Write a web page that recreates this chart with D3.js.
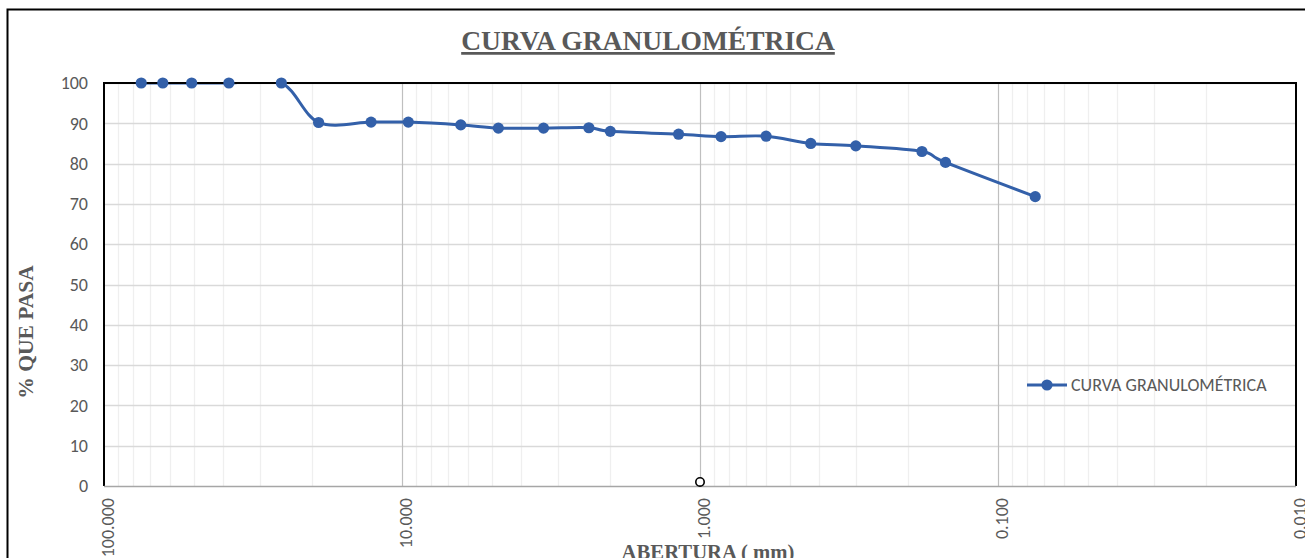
<!DOCTYPE html>
<html>
<head>
<meta charset="utf-8">
<script src="https://cdn.jsdelivr.net/npm/d3@7"></script>
<style>
  body { margin: 0; background: #fff; }
  svg { display: block; }
</style>
</head>
<body>
<div id="wrapper"></div>
<script>
// abertura (mm) y % que pasa
const aberturas = [75, 63.5, 50.8, 38.1, 25.4, 19.05, 12.7, 9.525, 6.35, 4.75, 3.35, 2.36, 2.0, 1.18, 0.85, 0.6, 0.425, 0.3, 0.18, 0.15, 0.075];
const pasa = [100, 100, 100, 100, 100, 90.2, 90.3, 90.3, 89.6, 88.8, 88.8, 88.9, 88.0, 87.3, 86.7, 86.8, 85.0, 84.4, 83.0, 80.3, 71.8];
// punto suelto (marcador hueco)
const extraX = [1.0];
const extraY = [1];
const xTicks = [100, 10, 1, 0.1, 0.01];
const yTicks = [0, 10, 20, 30, 40, 50, 60, 70, 80, 90, 100];

function drawChart() {
  const data = aberturas.map((d, i) => ({ x: d, y: pasa[i] }));
  const extra = extraX.map((d, i) => ({ x: d, y: extraY[i] }));

  let dimensions = {
    width: 1305,
    height: 558,
    margin: { top: 83, right: 9, bottom: 72, left: 104 },
  };
  dimensions.boundedWidth = dimensions.width - dimensions.margin.left - dimensions.margin.right;
  dimensions.boundedHeight = dimensions.height - dimensions.margin.top - dimensions.margin.bottom;

  const wrapper = d3.select("#wrapper")
    .append("svg")
    .attr("width", dimensions.width)
    .attr("height", dimensions.height);

  // outer chart border
  wrapper.append("path")
    .attr("d", `M7.5,${dimensions.height} V9.5 H${dimensions.width}`)
    .attr("fill", "none")
    .attr("stroke", "#000")
    .attr("stroke-width", 2);

  const bounds = wrapper.append("g")
    .attr("transform", `translate(${dimensions.margin.left},${dimensions.margin.top})`);

  bounds.append("clipPath")
    .attr("id", "plot-clip")
    .append("rect")
      .attr("x", 0).attr("y", 0)
      .attr("width", dimensions.boundedWidth)
      .attr("height", dimensions.boundedHeight);

  const xScale = d3.scaleLog()
    .domain([100, 0.01])
    .range([0, dimensions.boundedWidth]);

  const yScale = d3.scaleLinear()
    .domain([0, 100])
    .range([dimensions.boundedHeight, 0]);

  // minor vertical gridlines
  const minor = [];
  for (let e = -2; e < 2; e++) {
    for (let k = 2; k <= 9; k++) minor.push(k * Math.pow(10, e));
  }
  bounds.append("g").selectAll("line")
    .data(minor)
    .enter().append("line")
      .attr("x1", d => Math.round(xScale(d)) + 0.5)
      .attr("x2", d => Math.round(xScale(d)) + 0.5)
      .attr("y1", 0)
      .attr("y2", dimensions.boundedHeight)
      .attr("stroke", "#efefef")
      .attr("stroke-width", 1.3);

  // horizontal gridlines
  bounds.append("g").selectAll("line")
    .data(yTicks.slice(1))
    .enter().append("line")
      .attr("x1", 0)
      .attr("x2", dimensions.boundedWidth)
      .attr("y1", d => Math.round(yScale(d)) + 0.5)
      .attr("y2", d => Math.round(yScale(d)) + 0.5)
      .attr("stroke", "#d9d9d9")
      .attr("stroke-width", 1.3);

  // major vertical gridlines
  bounds.append("g").selectAll("line")
    .data(xTicks.slice(1, -1))
    .enter().append("line")
      .attr("x1", d => Math.round(xScale(d)) + 0.5)
      .attr("x2", d => Math.round(xScale(d)) + 0.5)
      .attr("y1", 0)
      .attr("y2", dimensions.boundedHeight)
      .attr("stroke", "#bfbfbf")
      .attr("stroke-width", 1.2);

  // curve (clipped to the plot area, like the spreadsheet does)
  const lineGenerator = d3.line()
    .x(d => xScale(d.x))
    .y(d => yScale(d.y))
    .curve(d3.curveCatmullRom.alpha(0));

  bounds.append("path")
    .datum(data)
    .attr("clip-path", "url(#plot-clip)")
    .attr("d", lineGenerator)
    .attr("fill", "none")
    .attr("stroke", "#3360a9")
    .attr("stroke-width", 3);

  // plot border (top, left, right black; bottom gray)
  bounds.append("path")
    .attr("d", `M0,${dimensions.boundedHeight} V0 H${dimensions.boundedWidth} V${dimensions.boundedHeight}`)
    .attr("fill", "none")
    .attr("stroke", "#000")
    .attr("stroke-width", 2);
  bounds.append("line")
    .attr("x1", 0)
    .attr("x2", dimensions.boundedWidth)
    .attr("y1", dimensions.boundedHeight + 0.5)
    .attr("y2", dimensions.boundedHeight + 0.5)
    .attr("stroke", "#a6a6a6")
    .attr("stroke-width", 1.5);

  bounds.append("g").selectAll("circle")
    .data(data)
    .enter().append("circle")
      .attr("cx", d => xScale(d.x))
      .attr("cy", d => yScale(d.y))
      .attr("r", 5.6)
      .attr("fill", "#3360a9");

  bounds.append("g").selectAll("circle")
    .data(extra)
    .enter().append("circle")
      .attr("cx", d => xScale(d.x))
      .attr("cy", d => yScale(d.y))
      .attr("r", 4.2)
      .attr("fill", "#fff")
      .attr("stroke", "#000")
      .attr("stroke-width", 1.6);

  // y axis labels
  const yAxis = bounds.append("g")
    .call(d3.axisLeft(yScale).tickValues(yTicks).tickSize(0).tickPadding(16));
  yAxis.select(".domain").remove();
  yAxis.selectAll("text")
    .attr("font-family", "Carlito, 'Open Sans', sans-serif")
    .attr("font-size", 18)
    .attr("fill", "#595959");

  // x axis labels
  const xAxis = bounds.append("g")
    .attr("transform", `translate(0,${dimensions.boundedHeight})`)
    .call(d3.axisBottom(xScale).tickValues(xTicks).tickSize(0).tickFormat(d3.format(".3f")));
  xAxis.select(".domain").remove();
  xAxis.selectAll("text")
    .attr("font-family", "Carlito, 'Open Sans', sans-serif")
    .attr("font-size", 18)
    .attr("fill", "#595959")
    .attr("text-anchor", "end")
    .attr("dy", "0.35em")
    .attr("transform", "translate(0,12) rotate(-90)");

  // title
  wrapper.append("text")
    .attr("x", 648)
    .attr("y", 50)
    .attr("text-anchor", "middle")
    .attr("font-family", "'Liberation Serif', 'Times New Roman', serif")
    .attr("font-weight", "bold")
    .attr("font-size", 27.5)
    .attr("text-decoration", "underline")
    .attr("fill", "#595959")
    .text("CURVA GRANULOMÉTRICA");

  // axis titles
  wrapper.append("text")
    .attr("transform", "translate(33,332) rotate(-90)")
    .attr("text-anchor", "middle")
    .attr("font-family", "'Liberation Serif', 'Times New Roman', serif")
    .attr("font-weight", "bold")
    .attr("font-size", 21.5)
    .attr("fill", "#595959")
    .text("% QUE PASA");

  wrapper.append("text")
    .attr("x", 708)
    .attr("y", 559)
    .attr("text-anchor", "middle")
    .attr("font-family", "'Liberation Serif', 'Times New Roman', serif")
    .attr("font-weight", "bold")
    .attr("font-size", 20.7)
    .attr("fill", "#595959")
    .text("ABERTURA ( mm)");

  // legend
  const legend = wrapper.append("g")
    .attr("transform", "translate(1027,385)");
  legend.append("line")
    .attr("x1", 0).attr("x2", 40)
    .attr("y1", 0).attr("y2", 0)
    .attr("stroke", "#3360a9")
    .attr("stroke-width", 3);
  legend.append("circle")
    .attr("cx", 20).attr("cy", 0).attr("r", 5.6)
    .attr("fill", "#3360a9");
  legend.append("text")
    .attr("x", 44)
    .attr("y", 0)
    .attr("dy", "0.35em")
    .attr("font-family", "Carlito, 'Open Sans', sans-serif")
    .attr("font-size", 18)
    .attr("fill", "#595959")
    .text("CURVA GRANULOMÉTRICA");
}

drawChart();
</script>
</body>
</html>
